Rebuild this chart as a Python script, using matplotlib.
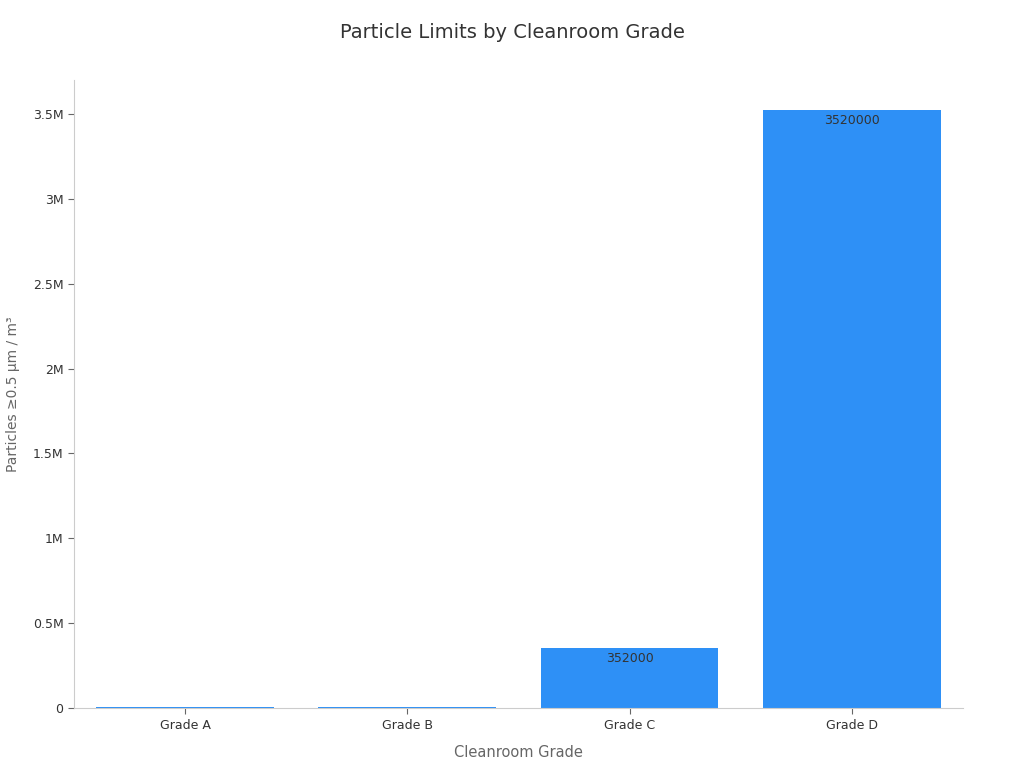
import matplotlib.pyplot as plt
from matplotlib.ticker import FuncFormatter

grades = ['Grade A', 'Grade B', 'Grade C', 'Grade D']
particles = [3520, 3520, 352000, 3520000]
shown_labels = ['', '', '352000', '3520000']

fig = plt.figure(figsize=(10.24, 7.68), dpi=100)
ax = fig.add_axes([0.0723, 0.078, 0.868, 0.818])

x = range(len(grades))
bars = ax.bar(x, particles, width=0.8, color='#2E90F6', linewidth=0, zorder=1)

for b, lab in zip(bars, shown_labels):
    if lab:
        ax.text(b.get_x() + b.get_width() / 2, b.get_height() - 20000, lab,
                ha='center', va='top', fontsize=9, color='#333333')

ax.set_xlim(-0.5, 3.5)
ax.set_ylim(0, 3.7e6)
ax.set_yticks([0, 0.5e6, 1e6, 1.5e6, 2e6, 2.5e6, 3e6, 3.5e6])


def fmt(v, pos):
    if v == 0:
        return '0'
    return f'{v / 1e6:g}M'


ax.yaxis.set_major_formatter(FuncFormatter(fmt))
ax.set_xticks(list(x))
ax.set_xticklabels(grades)
ax.tick_params(axis='both', labelsize=9, labelcolor='#333333', color='#666666',
               length=4, width=0.8)

for s in ['top', 'right']:
    ax.spines[s].set_visible(False)
for s in ['left', 'bottom']:
    ax.spines[s].set_color('#cccccc')
    ax.spines[s].set_zorder(3)

ax.set_xlabel('Cleanroom Grade', fontsize=10.5, color='#666666', labelpad=10)
ax.set_ylabel('Particles ≥0.5 µm / m³', fontsize=10, color='#666666', labelpad=9)
fig.suptitle('Particle Limits by Cleanroom Grade', fontsize=14, color='#333333', y=0.97)

fig.savefig('out.png', dpi=100)
